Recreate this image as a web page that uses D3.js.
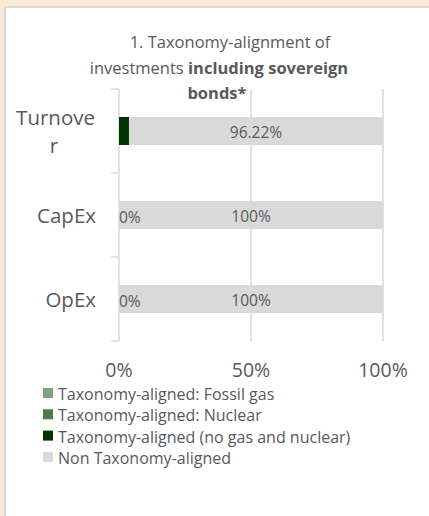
<!DOCTYPE html>
<html><head><meta charset="utf-8">
<script src="https://cdn.jsdelivr.net/npm/d3@7"></script>
<style>
html,body{margin:0;padding:0;background:#fce8d6;}
svg{display:block;}
text{font-family:"Open Sans",sans-serif;fill:#595959;}
</style></head><body>
<script>
const categories = ["Turnover", "CapEx", "OpEx"];
const seriesNames = ["Taxonomy-aligned: Fossil gas", "Taxonomy-aligned: Nuclear", "Taxonomy-aligned (no gas and nuclear)", "Non Taxonomy-aligned"];
const fossilGas = [0, 0, 0];
const nuclear = [0, 0, 0];
const alignedOther = [3.78, 0, 0];
const nonAligned = [96.22, 100, 100];
const xTicks = [0, 50, 100];
const colors = ["#83a083", "#4e7a4f", "#003300", "#d9d9d9"];

const W = 429, H = 516;
const svg = d3.select("body").append("svg").attr("width", W).attr("height", H);
svg.append("rect").attr("x", 4).attr("y", 6).attr("width", W - 4).attr("height", H - 6).attr("fill", "#d9d9d9");
svg.append("rect").attr("x", 6).attr("y", 8).attr("width", W - 6).attr("height", H - 8).attr("fill", "#ffffff");

// Title
const title = svg.append("text").attr("text-anchor", "middle").style("font-size", "16.5px");
title.append("tspan").attr("x", 230).attr("y", 48).text("1. Taxonomy-alignment of");
const l2 = title.append("tspan").attr("x", 219).attr("y", 74);
l2.append("tspan").text("investments ");
l2.append("tspan").style("font-weight", "bold").text("including sovereign");
title.append("tspan").attr("x", 217).attr("y", 99).style("font-weight", "bold").text("bonds*");

const x = d3.scaleLinear().domain([0, 100]).range([119, 383]);
const y = d3.scaleBand().domain(categories).range([89, 341]).paddingInner(2/3).paddingOuter(1/3);

// gridlines
svg.append("g").selectAll("line").data(xTicks).join("line")
  .attr("x1", d => x(d)).attr("x2", d => x(d)).attr("y1", 89).attr("y2", 341)
  .attr("stroke", "#d9d9d9").attr("stroke-width", 1.5);

// category axis ticks
const bounds = [89, 173, 257, 341];
svg.append("g").selectAll("line").data(bounds).join("line")
  .attr("x1", 111).attr("x2", 119).attr("y1", d => d).attr("y2", d => d)
  .attr("stroke", "#d9d9d9").attr("stroke-width", 1.5);

// stacked bars
const rows = categories.map((c, i) => ({cat: c, vals: [fossilGas[i], nuclear[i], alignedOther[i], nonAligned[i]]}));
const stackData = rows.map(r => { const o = {cat: r.cat}; seriesNames.forEach((s, j) => o[s] = r.vals[j]); return o; });
const stack = d3.stack().keys(seriesNames)(stackData);
const gBars = svg.append("g");
stack.forEach((layer, j) => {
  gBars.selectAll(null).data(layer).join("rect")
    .attr("x", d => x(d[0])).attr("width", d => x(d[1]) - x(d[0]))
    .attr("y", d => y(d.data.cat)).attr("height", y.bandwidth())
    .attr("fill", colors[j]);
});

// data labels
const fmt = v => (Math.round(v * 100) / 100) + "%";
categories.forEach((c, i) => {
  const cy = y(c) + y.bandwidth() / 2;
  if (alignedOther[i] === 0) {
    svg.append("text").attr("x", 119).attr("y", cy + 8).style("font-size", "15.5px").text(fmt(alignedOther[i]));
  }
  const s0 = fossilGas[i] + nuclear[i] + alignedOther[i];
  svg.append("text").attr("x", (x(s0) + x(s0 + nonAligned[i])) / 2).attr("y", cy + 6.5)
    .attr("text-anchor", "middle").style("font-size", "15.5px").text(fmt(nonAligned[i]));
});

// category labels
const catLabels = svg.append("g").style("font-size", "20.5px");
catLabels.append("text").attr("x", 95).attr("y", y("Turnover") + y.bandwidth()/2 - 6).attr("text-anchor", "end").text("Turnove");
catLabels.append("text").attr("x", 54).attr("y", y("Turnover") + y.bandwidth()/2 + 22).attr("text-anchor", "middle").text("r");
["CapEx", "OpEx"].forEach(c => {
  catLabels.append("text").attr("x", 96).attr("y", y(c) + y.bandwidth()/2 + 8).attr("text-anchor", "end").text(c);
});

// x axis tick labels
svg.append("g").selectAll("text").data(xTicks).join("text")
  .attr("x", d => x(d)).attr("y", 377).attr("text-anchor", "middle").style("font-size", "19.5px")
  .text(d => d + "%");

// legend
const leg = svg.append("g");
seriesNames.forEach((s, j) => {
  const ly = 393 + j * 21.3;
  leg.append("rect").attr("x", 43).attr("y", ly - 5).attr("width", 10).attr("height", 10).attr("fill", colors[j]);
  leg.append("text").attr("x", 58).attr("y", ly + 7).style("font-size", "16px").text(s);
});
</script>
</body></html>
